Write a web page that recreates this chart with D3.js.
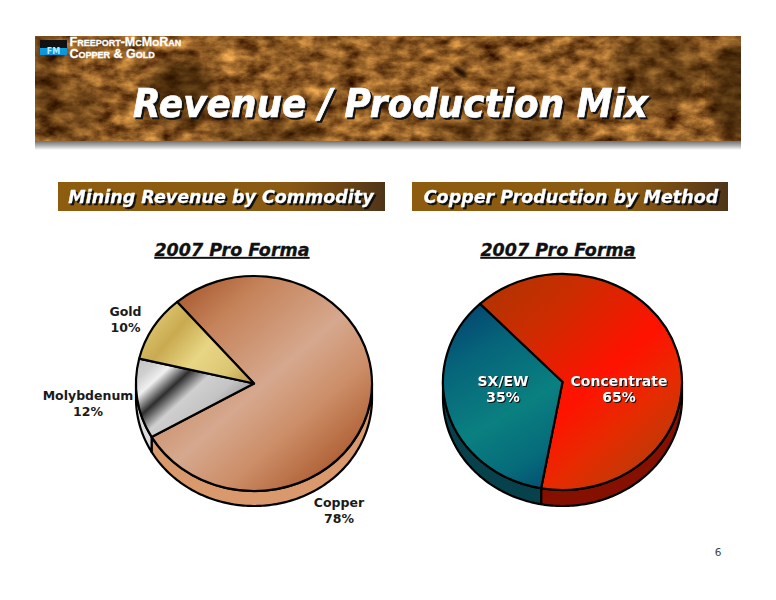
<!DOCTYPE html>
<html><head><meta charset="utf-8">
<script src="https://d3js.org/d3.v7.min.js"></script>
<style>
html,body{margin:0;padding:0;background:#fff}
svg{display:block}
text{font-family:"DejaVu Sans",sans-serif}
</style></head><body>
<script>
const pageTitle = "Revenue / Production Mix";
const panelTitles = ["Mining Revenue by Commodity", "Copper Production by Method"];
const yearTitle = "2007 Pro Forma";
const revenueCategories = ["Copper", "Molybdenum", "Gold"];
const revenueValues = [78, 12, 10];
const methodCategories = ["Concentrate", "SX/EW"];
const methodValues = [65, 35];
const logoLines = ["Freeport-McMoRan", "Copper & Gold"];
const pageNumber = "6";

const W = 776, H = 600;
const svg = d3.select("body").append("svg").attr("width", W).attr("height", H).attr("viewBox", `0 0 ${W} ${H}`);
const defs = svg.append("defs");

function grad(id, x1, y1, x2, y2, stops, user = true) {
  const g = defs.append("linearGradient").attr("id", id)
    .attr("x1", x1).attr("y1", y1).attr("x2", x2).attr("y2", y2);
  if (user) g.attr("gradientUnits", "userSpaceOnUse");
  stops.forEach(([o, c]) => g.append("stop").attr("offset", o).attr("stop-color", c));
}
grad("copperG", -0.75, -0.85, 0.85, 0.8, [[0, "#a4542a"], [0.22, "#c5835a"], [0.52, "#d6a88e"], [0.72, "#cc8e68"], [1, "#a85428"]]);
grad("molyG", -1, -0.35, -0.2, 0.45, [[0, "#bbb"], [0.2, "#cfcfcf"], [0.3, "#f0f0f0"], [0.43, "#2e2e2e"], [0.56, "#cfcfcf"], [0.72, "#c4c4c4"], [1, "#777"]]);
grad("goldG", -1, -0.6, -0.1, 0.1, [[0, "#e6d27e"], [0.3, "#c9aa50"], [0.55, "#e8d684"], [0.8, "#dcc673"], [1, "#b8964a"]]);
grad("redG", -0.8, -0.95, 0.85, 0.75, [[0, "#a83600"], [0.3, "#cc2c00"], [0.6, "#ff1200"], [0.78, "#e82a00"], [1, "#b83c08"]]);
grad("tealG", -0.9, -0.75, 0.2, 0.95, [[0, "#03406e"], [0.25, "#06647a"], [0.55, "#0a8080"], [0.78, "#066a7a"], [1, "#02406c"]]);
grad("barG", 0, 0, 1, 0, [[0, "#8e5c0e"], [0.7, "#8a5a14"], [0.88, "#6a4416"], [1, "#4e3418"]], false);
grad("shadeG", 0, 0, 0, 1, [[0, "#6e6e6e"], [0.5, "#b0b0b0"], [1, "#ffffff"]], false);
grad("logoG", 0, 0, 0, 1, [[0, "#111"], [0.5, "#111"], [0.52, "#0aa0e0"], [1, "#1090d8"]], false);

// rock texture for the banner
const tex = defs.append("filter").attr("id", "rock").attr("x", 0).attr("y", 0).attr("width", 1).attr("height", 1)
  .attr("color-interpolation-filters", "sRGB");
tex.append("feTurbulence").attr("type", "fractalNoise").attr("baseFrequency", "0.05 0.08").attr("numOctaves", 6).attr("seed", 11).attr("result", "n");
tex.append("feColorMatrix").attr("in", "n").attr("type", "matrix")
  .attr("values", "1.0 0 0 0 0.06  0.8 0 0 0 -0.04  0.45 0 0 0 -0.08  0 0 0 0 1").attr("result", "c");
tex.append("feComposite").attr("in", "c").attr("in2", "SourceGraphic").attr("operator", "in");
defs.append("filter").attr("id", "blur").append("feGaussianBlur").attr("stdDeviation", 7);
defs.append("filter").attr("id", "blurS").append("feGaussianBlur").attr("stdDeviation", 1.5);
defs.append("clipPath").attr("id", "bannerClip").append("rect").attr("x", 35).attr("y", 36).attr("width", 706).attr("height", 105);

// banner
svg.append("rect").attr("x", 35).attr("y", 141).attr("width", 706).attr("height", 9).attr("fill", "url(#shadeG)");
const banner = svg.append("g").attr("clip-path", "url(#bannerClip)");
banner.append("rect").attr("x", 35).attr("y", 36).attr("width", 706).attr("height", 105).attr("fill", "#fff").attr("filter", "url(#rock)");
[[180, 92, 34, 34, .6], [60, 110, 40, 30, .3], [660, 70, 50, 40, .35], [735, 90, 25, 50, .6], [40, 60, 20, 40, .3], [500, 130, 80, 16, .3], [270, 135, 60, 14, .35]]
  .forEach(([x, y, a, b, o]) => banner.append("ellipse").attr("cx", x).attr("cy", y).attr("rx", a).attr("ry", b).attr("fill", "#2a1206").attr("opacity", o).attr("filter", "url(#blur)"));
banner.append("ellipse").attr("cx", 460).attr("cy", 72).attr("rx", 8).attr("ry", 3).attr("transform", "rotate(35 460 72)").attr("fill", "#1c0c04").attr("filter", "url(#blurS)");

// logo
svg.append("rect").attr("x", 40).attr("y", 40).attr("width", 27).attr("height", 15).attr("fill", "url(#logoG)");
svg.append("text").attr("x", 53.5).attr("y", 54).attr("text-anchor", "middle").attr("font-size", 8).attr("font-weight", 700).attr("fill", "#b8ecff").text("FM");
logoLines.forEach((t, i) => svg.append("text").attr("x", 69.5).attr("y", 46 + i * 12)
  .style("font-family", "'Liberation Sans',sans-serif").style("font-variant", "small-caps").attr("font-size", 12.5).attr("font-weight", 700)
  .attr("fill", "#fff").attr("stroke", "#fff").attr("stroke-width", .3).text(t));

// page title
svg.append("text").attr("x", 390.5).attr("y", 117).attr("text-anchor", "middle").attr("font-size", 39).attr("font-weight", 700).attr("font-style", "italic")
  .attr("textLength", 515).attr("lengthAdjust", "spacingAndGlyphs")
  .attr("fill", "#fff").attr("stroke", "#fff").attr("stroke-width", .7).style("filter", "drop-shadow(2.5px 2.5px 0 #111)").text(pageTitle);

// panel headers
[[58, 327, 221], [412, 316, 571]].forEach(([x, w, cx], i) => {
  svg.append("rect").attr("x", x).attr("y", 182).attr("width", w).attr("height", 29).attr("fill", "url(#barG)");
  svg.append("text").attr("x", cx).attr("y", 203).attr("text-anchor", "middle").attr("font-size", 17.5).attr("font-weight", 700).attr("font-style", "italic")
    .attr("fill", "#fff").attr("stroke", "#fff").attr("stroke-width", .3).style("filter", "drop-shadow(2px 2px 0 #111)").text(panelTitles[i]);
});

// year titles
[232, 558].forEach(cx => {
  svg.append("text").attr("x", cx).attr("y", 256).attr("text-anchor", "middle").attr("font-size", 17.5).attr("font-weight", 700).attr("font-style", "italic")
    .attr("text-decoration", "underline").attr("fill", "#111").attr("stroke", "#111").attr("stroke-width", .3).text(yearTitle);
});

function drawPie(cfg) {
  const { cx, cy, rx, ry, depth, start, values, fills, sides } = cfg;
  const x = d3.scaleLinear().domain([-1, 1]).range([cx - rx, cx + rx]);
  const y = d3.scaleLinear().domain([-1, 1]).range([cy - ry, cy + ry]);
  const pie = d3.pie().sort(null).startAngle(start).endAngle(start + 2 * Math.PI);
  const slices = pie(values);
  const g = svg.append("g");

  // side wall: only the part of each slice on the near half of the ellipse
  const pt = a => [x(Math.sin(a)), y(-Math.cos(a))];
  const line = d3.line();
  slices.forEach((s, i) => {
    for (const k of [0, 1]) {
      const lo = Math.max(s.startAngle, Math.PI / 2 + k * 2 * Math.PI);
      const hi = Math.min(s.endAngle, 3 * Math.PI / 2 + k * 2 * Math.PI);
      if (hi <= lo) continue;
      const as = d3.range(lo, hi, 0.02).concat([hi]);
      const top = as.map(pt);
      const bot = as.map(pt).map(([px, py]) => [px, py + depth]).reverse();
      g.append("path").attr("d", line(top.concat(bot)) + "Z").attr("fill", sides[i])
        .attr("stroke", "#000").attr("stroke-width", 2.2).attr("stroke-linejoin", "round");
    }
  });

  // top face
  const arc = d3.arc().innerRadius(0).outerRadius(1);
  const face = g.append("g").attr("transform", `translate(${cx},${cy}) scale(${rx},${ry})`);
  face.selectAll("path").data(slices).join("path").attr("d", arc)
    .attr("fill", (d, i) => `url(#${fills[i]})`)
    .attr("stroke", "#000").attr("stroke-width", 2.2).attr("stroke-linejoin", "round")
    .attr("vector-effect", "non-scaling-stroke");
}

const rad = d => d * Math.PI / 180;
drawPie({ cx: 254, cy: 383.5, rx: 118, ry: 107.5, depth: 15, start: rad(-40.6), values: revenueValues,
  fills: ["copperG", "molyG", "goldG"], sides: ["#d9996c", "#dcdcdc", "#c9aa50"] });
drawPie({ cx: 562.5, cy: 382, rx: 119.5, ry: 108, depth: 16, start: rad(-43.7), values: methodValues,
  fills: ["redG", "tealG"], sides: ["#861000", "#07424c"] });

function label(cat, val, x, y, opts = {}) {
  const t = svg.append("text").attr("text-anchor", "middle").attr("font-size", opts.size || 12.5).attr("font-weight", 700)
    .attr("fill", opts.fill || "#1a1a1a");
  if (opts.shadow) t.style("filter", "drop-shadow(1.5px 1.5px 0 #111)");
  t.append("tspan").attr("x", x).attr("y", y).text(cat);
  t.append("tspan").attr("x", x).attr("y", y + (opts.gap || 16)).text(val + "%");
}
label(revenueCategories[2], revenueValues[2], 125.5, 316);
label(revenueCategories[1], revenueValues[1], 88, 400);
label(revenueCategories[0], revenueValues[0], 339, 507);
label(methodCategories[1], methodValues[1], 503, 386, { fill: "#fff", shadow: true, size: 14 });
label(methodCategories[0], methodValues[0], 619, 386, { fill: "#fff", shadow: true, size: 14 });

svg.append("text").attr("x", 718).attr("y", 556).attr("text-anchor", "middle").attr("font-size", 10.5).attr("fill", "#444").text(pageNumber);
</script>
</body></html>
